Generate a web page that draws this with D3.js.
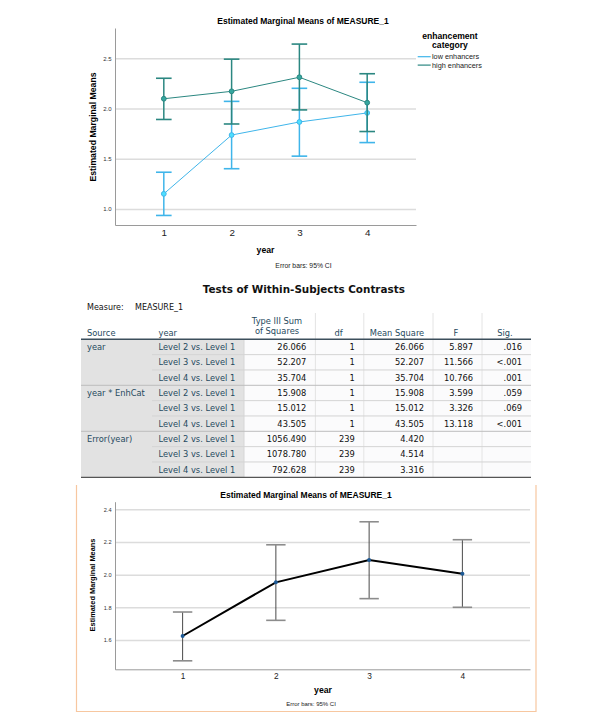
<!DOCTYPE html>
<html>
<head>
<meta charset="utf-8">
<script src="https://cdn.jsdelivr.net/npm/d3@7"></script>
<style>
	body { margin: 0; background: #fff; }
	svg { display: block; }
	.chart text { font-family: "Liberation Sans", Arial, sans-serif; }
	.tbl text { font-family: "DejaVu Sans", sans-serif; }
</style>
</head>
<body>
<svg width="601" height="726"></svg>
<script>

// top chart : means by year and enhancement category (95% CI)
const YEARS = [1, 2, 3, 4];
const GROUPS = ['low enhancers', 'high enhancers'];
const LOW_MEAN = [1.15, 1.735, 1.865, 1.955];
const LOW_LO = [0.935, 1.40, 1.525, 1.66];
const LOW_HI = [1.365, 2.07, 2.20, 2.26];
const HIGH_MEAN = [2.096, 2.17, 2.31, 2.057];
const HIGH_LO = [1.89, 1.845, 1.985, 1.77];
const HIGH_HI = [2.30, 2.49, 2.64, 2.345];
const TOP_TICKS = [1.0, 1.5, 2.0, 2.5];

// bottom chart : means by year, all subjects
const ALL_MEAN = [1.624, 1.953, 2.09, 2.006];
const ALL_LO = [1.472, 1.72, 1.853, 1.80];
const ALL_HI = [1.771, 2.183, 2.324, 2.214];
const BOTTOM_TICKS = [1.6, 1.8, 2.0, 2.2, 2.4];

// table
const SOURCES = ['year', 'year * EnhCat', 'Error(year)'];
const CONTRASTS = ['Level 2 vs. Level 1', 'Level 3 vs. Level 1', 'Level 4 vs. Level 1'];
const SUM_SQ = ['26.066', '52.207', '35.704', '15.908', '15.012', '43.505', '1056.490', '1078.780', '792.628'];
const DF = ['1', '1', '1', '1', '1', '1', '239', '239', '239'];
const MEAN_SQ = ['26.066', '52.207', '35.704', '15.908', '15.012', '43.505', '4.420', '4.514', '3.316'];
const F_VALS = ['5.897', '11.566', '10.766', '3.599', '3.326', '13.118', '', '', ''];
const SIG = ['.016', '<.001', '.001', '.059', '.069', '<.001', '', '', ''];

const COLORS = ['#3fb5ea', '#2b8781'];

let svg = d3.select('svg');

function drawFrame(g, x, y, ticks, fmt, tickFont) {
	let [x0, x1] = x.range();
	// grid
	g.append('g')
		.call(d3.axisLeft(y).tickValues(ticks).tickSize(-(x1 - x0)).tickFormat(''))
		.attr('transform', `translate(${x0},0)`)
		.call(a => a.select('.domain').remove())
		.call(a => a.selectAll('line').attr('stroke', '#dcdcdc').attr('stroke-width', 1.5));
	g.append('g')
		.attr('transform', `translate(${x0},0)`)
		.call(d3.axisLeft(y).tickValues(ticks).tickSize(0).tickPadding(3.5).tickFormat(fmt).tickSizeOuter(0))
		.call(a => a.select('.domain').attr('stroke', '#9a9a9a'))
		.call(a => a.selectAll('text').attr('font-size', tickFont).attr('fill', '#333'));
}

function errorBars(g, x, y, mean, lo, hi, opts) {
	let d = YEARS.map((yr, i) => ({ yr: yr, m: mean[i], lo: lo[i], hi: hi[i] }));
	let bars = g.append('g').selectAll('g').data(d).enter().append('g');
	bars.append('line')
		.attr('x1', d => x(d.yr)).attr('x2', d => x(d.yr))
		.attr('y1', d => y(d.lo)).attr('y2', d => y(d.hi))
		.attr('stroke', opts.bar).attr('stroke-width', opts.barW);
	[d => d.lo, d => d.hi].forEach(f => {
		bars.append('line')
			.attr('x1', d => x(d.yr) - opts.cap).attr('x2', d => x(d.yr) + opts.cap)
			.attr('y1', d => y(f(d))).attr('y2', d => y(f(d)))
			.attr('stroke', opts.capColor).attr('stroke-width', opts.capW);
	});
	return d;
}

// ---------- top chart ----------
let topChart = svg.append('g').attr('class', 'chart');
let xT = d3.scaleLinear().domain([0.28, 4.72]).range([115, 416]);
let yT = d3.scaleLinear().domain([0.84, 2.80]).range([225, 28]);

drawFrame(topChart, xT, yT, TOP_TICKS, d3.format('.1f'), 6);
topChart.append('g')
	.attr('transform', 'translate(0,225)')
	.call(d3.axisBottom(xT).tickValues(YEARS).tickFormat(d3.format('d')).tickSize(0).tickPadding(4).tickSizeOuter(0))
	.call(a => a.select('.domain').attr('stroke', '#9a9a9a'))
	.call(a => a.selectAll('text').attr('font-size', 9.8).attr('fill', '#222'));

let series = [
	[LOW_MEAN, LOW_LO, LOW_HI],
	[HIGH_MEAN, HIGH_LO, HIGH_HI]
];
series.forEach((s, k) => {
	let col = COLORS[k];
	let pts = errorBars(topChart, xT, yT, s[0], s[1], s[2],
		{ bar: col, barW: 1.5, cap: 7.8, capColor: col, capW: 1.6 });
	topChart.append('path')
		.datum(pts)
		.attr('fill', 'none')
		.attr('stroke', col)
		.attr('stroke-width', 1)
		.attr('d', d3.line().x(d => xT(d.yr)).y(d => yT(d.m)));
	topChart.append('g').selectAll('circle').data(pts).enter().append('circle')
		.attr('cx', d => xT(d.yr)).attr('cy', d => yT(d.m)).attr('r', 2.4)
		.attr('fill', d3.color(col).brighter(0.6)).attr('stroke', col).attr('stroke-width', 1);
});

topChart.append('text').attr('x', 303).attr('y', 24).attr('text-anchor', 'middle')
	.attr('font-size', 8.5).attr('font-weight', 'bold').text('Estimated Marginal Means of MEASURE_1');
topChart.append('text').attr('transform', 'translate(96,127) rotate(-90)').attr('text-anchor', 'middle')
	.attr('font-size', 8.7).attr('font-weight', 'bold').text('Estimated Marginal Means');
topChart.append('text').attr('x', 265.5).attr('y', 253).attr('text-anchor', 'middle')
	.attr('font-size', 8.7).attr('font-weight', 'bold').text('year');
topChart.append('text').attr('x', 303.5).attr('y', 267.5).attr('text-anchor', 'middle')
	.attr('font-size', 6.8).attr('fill', '#222').text('Error bars: 95% CI');

// legend
topChart.append('text').attr('x', 450).attr('y', 39).attr('text-anchor', 'middle')
	.attr('font-size', 8.6).attr('font-weight', 'bold').text('enhancement');
topChart.append('text').attr('x', 450).attr('y', 48).attr('text-anchor', 'middle')
	.attr('font-size', 8.6).attr('font-weight', 'bold').text('category');
let leg = topChart.append('g').selectAll('g').data(GROUPS).enter().append('g')
	.attr('transform', (d, i) => `translate(0,${56.7 + i * 8.4})`);
leg.append('line').attr('x1', 417.7).attr('x2', 430.7)
	.attr('stroke', (d, i) => COLORS[i]).attr('stroke-width', 1.2);
leg.append('text').attr('x', 432).attr('dy', '0.35em').attr('font-size', 7.3).attr('fill', '#222').text(d => d);

// ---------- table ----------
let tbl = svg.append('g').attr('class', 'tbl');
const LABEL = '#264a60';
let colSep = [244, 315.4, 363.8, 433, 482, 531];
let rows = d3.scaleBand().domain(d3.range(9)).range([339.3, 477.3]);
let L = 81, R = 531;

tbl.append('text').attr('x', 303.8).attr('y', 292.8).attr('text-anchor', 'middle')
	.attr('font-size', 10.4).attr('font-weight', 'bold').attr('fill', '#111')
	.text('Tests of Within-Subjects Contrasts');
tbl.append('text').attr('x', 87).attr('y', 309.8).attr('font-size', 8).attr('fill', '#111').text('Measure:');
tbl.append('text').attr('x', 135).attr('y', 309.8).attr('font-size', 8).attr('fill', '#111').text('MEASURE_1');

// backgrounds
tbl.append('rect').attr('x', L).attr('y', 339.3).attr('width', 244 - L).attr('height', 138)
	.attr('fill', '#e2e2e2');
tbl.append('rect').attr('x', 244).attr('y', 339.3).attr('width', R - 244).attr('height', 138)
	.attr('fill', '#fbfbfc');

// header
tbl.append('g').selectAll('line').data(colSep.slice(1, 5)).enter().append('line')
	.attr('x1', d => d).attr('x2', d => d).attr('y1', 313).attr('y2', 477.3)
	.attr('stroke', '#e4e4e4').attr('stroke-width', 1);
tbl.append('line').attr('x1', 244).attr('x2', 244).attr('y1', 339.3).attr('y2', 477.3)
	.attr('stroke', '#d6d6d6');

// row lines
rows.domain().slice(1).forEach(i => {
	let grp = i % 3 === 0;
	tbl.append('line').attr('x1', grp ? L : 152).attr('x2', R)
		.attr('y1', rows(i)).attr('y2', rows(i))
		.attr('stroke', grp ? '#bdbdbd' : '#d4d4d4').attr('stroke-width', 1);
});
tbl.append('line').attr('x1', L).attr('x2', R).attr('y1', 339.3).attr('y2', 339.3)
	.attr('stroke', '#3c4f5c').attr('stroke-width', 1.4);
tbl.append('line').attr('x1', L).attr('x2', R).attr('y1', 477.3).attr('y2', 477.3)
	.attr('stroke', '#555').attr('stroke-width', 1.2);

let hdr = tbl.append('g').attr('font-size', 8.3).attr('fill', LABEL);
hdr.append('text').attr('x', 87).attr('y', 335.7).text('Source');
hdr.append('text').attr('x', 158.5).attr('y', 335.7).text('year');
hdr.append('text').attr('x', 277).attr('y', 323.7).attr('text-anchor', 'middle').text('Type III Sum');
hdr.append('text').attr('x', 277).attr('y', 333.7).attr('text-anchor', 'middle').text('of Squares');
[['df', 338.5], ['Mean Square', 397], ['F', 456], ['Sig.', 505]].forEach(h => {
	hdr.append('text').attr('x', h[1]).attr('y', 335.7).attr('text-anchor', 'middle').text(h[0]);
});

let bw = rows.bandwidth();
let body = tbl.append('g').attr('font-size', 8.3);
SOURCES.forEach((s, i) => {
	body.append('text').attr('x', 87).attr('y', rows(i * 3) + bw / 2 + 3).attr('fill', LABEL).text(s);
});
let cols = [SUM_SQ, DF, MEAN_SQ, F_VALS, SIG];
d3.range(9).forEach(i => {
	let yy = rows(i) + bw / 2 + 3;
	body.append('text').attr('x', 158.5).attr('y', yy).attr('fill', LABEL).text(CONTRASTS[i % 3]);
	cols.forEach((c, j) => {
		body.append('text').attr('x', colSep[j + 1] - 9).attr('y', yy)
			.attr('text-anchor', 'end').attr('fill', '#111').text(c[i]);
	});
});

// ---------- bottom chart ----------
let bot = svg.append('g').attr('class', 'chart');
bot.append('path').attr('d', 'M76.5,485V711.5H536V485')
	.attr('fill', 'none').attr('stroke', '#f7c7a0').attr('stroke-width', 1.2);

let xB = d3.scaleLinear().domain([0.275, 4.725]).range([115, 530]);
let yB = d3.scaleLinear().domain([1.42, 2.447]).range([669.3, 501.7]);

drawFrame(bot, xB, yB, BOTTOM_TICKS, d3.format('.1f'), 5.6);
bot.append('g')
	.attr('transform', 'translate(0,669.3)')
	.call(d3.axisBottom(xB).tickValues(YEARS).tickFormat(d3.format('d')).tickSize(0).tickPadding(3.5).tickSizeOuter(0))
	.call(a => a.select('.domain').attr('stroke', '#9a9a9a'))
	.call(a => a.selectAll('text').attr('font-size', 8.3).attr('fill', '#222'));

let allPts = errorBars(bot, xB, yB, ALL_MEAN, ALL_LO, ALL_HI,
	{ bar: '#4a4a4a', barW: 1, cap: 9.7, capColor: '#8c8c8c', capW: 1.6 });
bot.append('path')
	.datum(allPts)
	.attr('fill', 'none')
	.attr('stroke', '#000')
	.attr('stroke-width', 2)
	.attr('d', d3.line().x(d => xB(d.yr)).y(d => yB(d.m)));
bot.append('g').selectAll('circle').data(allPts).enter().append('circle')
	.attr('cx', d => xB(d.yr)).attr('cy', d => yB(d.m)).attr('r', 2)
	.attr('fill', '#1d5a96');

bot.append('text').attr('x', 306).attr('y', 498).attr('text-anchor', 'middle')
	.attr('font-size', 8.5).attr('font-weight', 'bold').text('Estimated Marginal Means of MEASURE_1');
bot.append('text').attr('transform', 'translate(94.5,585) rotate(-90)').attr('text-anchor', 'middle')
	.attr('font-size', 7.4).attr('font-weight', 'bold').text('Estimated Marginal Means');
bot.append('text').attr('x', 323).attr('y', 693).attr('text-anchor', 'middle')
	.attr('font-size', 8.7).attr('font-weight', 'bold').text('year');
bot.append('text').attr('x', 311).attr('y', 705.5).attr('text-anchor', 'middle')
	.attr('font-size', 6).attr('fill', '#222').text('Error bars: 95% CI');

</script>
</body>
</html>
